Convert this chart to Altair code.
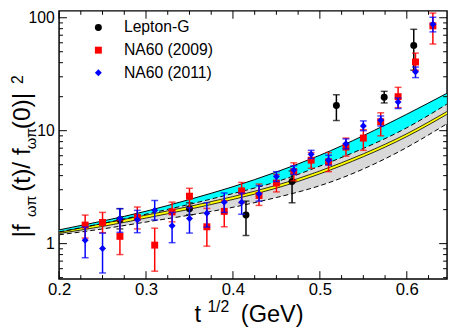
import altair as alt
import pandas as pd

# ---------------- data ----------------
lep_x  = [0.270, 0.350, 0.415, 0.468, 0.519, 0.574, 0.608]
lep_y  = [1.63, 2.04, 1.79, 3.55, 16.7, 19.8, 56.9]
lep_hi = [2.04, 2.30, 2.38, 4.40, 20.8, 22.3, 79.0]
lep_lo = [1.35, 1.80, 1.18, 2.30, 12.3, 17.6, 34.3]

na_x   = [0.23, 0.25, 0.27, 0.29, 0.31, 0.33, 0.35, 0.37, 0.39, 0.41, 0.43,
          0.45, 0.47, 0.49, 0.51, 0.53, 0.55, 0.57, 0.59, 0.61, 0.63]
n09_y  = [1.46, 1.54, 1.16, 1.71, 0.97, 1.91, 2.63, 1.41, 1.93, 2.93, 2.67,
          3.44, 4.34, 5.48, 5.30, 7.16, 8.60, 12.0, 20.0, 40.6, 84.8]
n09_hi = [1.79, 1.89, 1.60, 2.11, 1.37, 2.33, 3.09, 2.05, 2.40, 3.48, 3.37,
          4.10, 5.19, 6.40, 6.40, 8.60, 10.2, 14.4, 24.2, 48.6, 110.0]
n09_lo = [1.12, 1.25, 0.80, 1.35, 0.57, 1.56, 2.08, 0.95, 1.41, 2.30, 2.18,
          2.87, 3.60, 4.65, 4.34, 5.95, 6.70, 9.00, 16.0, 34.3, 58.5]
n11_y  = [1.07, 0.905, 1.67, 1.63, 1.97, 1.44, 1.67, 1.86, 2.33, 2.33, 2.76,
          3.92, 4.49, 6.19, 5.48, 7.65, 11.0, 12.4, 17.9, 33.2, 87.6]
n11_hi = [1.40, 1.24, 2.04, 1.97, 2.41, 1.89, 2.08, 2.30, 2.81, 2.80, 3.26,
          4.34, 4.90, 6.70, 6.06, 8.46, 12.2, 13.5, 19.5, 36.6, 101.0]
n11_lo = [0.75, 0.55, 1.26, 1.25, 1.62, 1.02, 1.24, 1.40, 1.89, 1.82, 2.38,
          3.55, 4.10, 5.67, 4.96, 6.90, 10.0, 11.0, 15.7, 29.5, 75.0]

curve_x  = [0.20, 0.25, 0.30, 0.35, 0.40, 0.45, 0.50, 0.55, 0.60, 0.646]
cyan_top = [1.323, 1.585, 1.936, 2.46, 3.19, 4.31, 6.06, 9.04, 14.0, 21.4]
cyan_bot = [1.272, 1.507, 1.823, 2.228, 2.776, 3.53, 4.86, 6.97, 10.62, 17.17]
gray_bot = [1.197, 1.350, 1.553, 1.787, 2.098, 2.56, 3.26, 4.58, 7.11, 11.5]
yel_hi   = [1.26, 1.507, 1.787, 2.137, 2.611, 3.286, 4.40, 6.24, 9.40, 14.77]
yel_lo   = [1.23, 1.420, 1.684, 2.015, 2.461, 3.097, 4.146, 5.88, 8.86, 13.92]

series_names = ["Lepton-G", "NA60 (2009)", "NA60 (2011)"]
series_colors = ["#000000", "#ff0000", "#0000ff"]
series_shapes = ["circle", "square", "diamond"]

x_major = [0.2, 0.3, 0.4, 0.5, 0.6]
x_minor = [0.225, 0.25, 0.275, 0.325, 0.35, 0.375, 0.425, 0.45, 0.475,
           0.525, 0.55, 0.575, 0.625]
y_major = [1, 10, 100]
y_minor = [0.5, 0.6, 0.7, 0.8, 0.9, 2, 3, 4, 5, 6, 7, 8, 9,
           20, 30, 40, 50, 60, 70, 80, 90]

# ---------------- chart ----------------
FONT = "Liberation Sans"
W, H = 395, 273
xs = alt.Scale(domain=[0.2, 0.6463], nice=False, zero=False)
ys = alt.Scale(type="log", domain=[0.486, 115], nice=False)
XAX = alt.Axis(values=x_major, format=".1f", ticks=False, domain=False, grid=False,
               labelFont=FONT, labelFontSize=17, labelColor="black",
               labelPadding=3, title=None, labelFlush=False)
YAX = alt.Axis(values=y_major, format="d", ticks=False, domain=False, grid=False,
               labelFont=FONT, labelFontSize=16, labelColor="black",
               labelPadding=5, title=None, labelFlush=False)


def X(f):
    return alt.X(f, type="quantitative", scale=xs, axis=XAX)


def Y(f):
    return alt.Y(f, type="quantitative", scale=ys, axis=YAX)


cdf = pd.DataFrame({"x": curve_x, "ct": cyan_top, "cb": cyan_bot,
                    "gb": gray_bot, "yh": yel_hi, "yl": yel_lo})
base_c = alt.Chart(cdf)
IP = "natural"
layers = [
    base_c.mark_area(color="#d9d9d9", interpolate=IP, clip=True)
    .encode(x=X("x"), y=Y("gb"), y2=alt.Y2("cb")),
    base_c.mark_area(color="#00ffff", interpolate=IP, clip=True)
    .encode(x=X("x"), y=Y("cb"), y2=alt.Y2("ct")),
    base_c.mark_area(color="#ffff00", interpolate=IP, clip=True)
    .encode(x=X("x"), y=Y("yl"), y2=alt.Y2("yh")),
    base_c.mark_line(color="black", strokeWidth=1, interpolate=IP, clip=True)
    .encode(x=X("x"), y=Y("ct")),
    base_c.mark_line(color="black", strokeWidth=1, strokeDash=[5, 3],
                     interpolate=IP, clip=True).encode(x=X("x"), y=Y("cb")),
    base_c.mark_line(color="black", strokeWidth=1, strokeDash=[5, 3],
                     interpolate=IP, clip=True).encode(x=X("x"), y=Y("gb")),
    base_c.mark_line(color="black", strokeWidth=0.8, interpolate=IP, clip=True)
    .encode(x=X("x"), y=Y("yh")),
    base_c.mark_line(color="black", strokeWidth=0.8, interpolate=IP, clip=True)
    .encode(x=X("x"), y=Y("yl")),
]

LEG = alt.Legend(title=None, orient="none", legendX=32, legendY=9, padding=0,
                 labelFont=FONT, labelFontSize=16, labelColor="black",
                 labelOffset=18, symbolSize=50, rowPadding=7)
col = alt.Color("s:N", scale=alt.Scale(domain=series_names, range=series_colors), legend=LEG)
shp = alt.Shape("s:N", scale=alt.Scale(domain=series_names, range=series_shapes), legend=LEG)

for name, xv, yv, hi, lo, c in [
        (series_names[0], lep_x, lep_y, lep_hi, lep_lo, series_colors[0]),
        (series_names[1], na_x, n09_y, n09_hi, n09_lo, series_colors[1]),
        (series_names[2], na_x, n11_y, n11_hi, n11_lo, series_colors[2])]:
    df = pd.DataFrame({"x": xv, "y": yv, "hi": hi, "lo": lo, "s": name})
    b = alt.Chart(df)
    layers += [
        b.mark_rule(color=c, strokeWidth=1.5).encode(x=X("x"), y=Y("lo"), y2=alt.Y2("hi")),
        b.mark_tick(color=c, orient="horizontal", size=7, thickness=1.5)
        .encode(x=X("x"), y=Y("hi")),
        b.mark_tick(color=c, orient="horizontal", size=7, thickness=1.5)
        .encode(x=X("x"), y=Y("lo")),
        b.mark_point(filled=True, size=50, opacity=1).encode(x=X("x"), y=Y("y"), color=col, shape=shp),
    ]

# inward ticks on all four sides
for vals, ln in [(x_major, 8), (x_minor, 4)]:
    t = alt.Chart(pd.DataFrame({"v": vals}))
    layers += [
        t.mark_rule(color="black", strokeWidth=1).encode(x=X("v"), y=alt.value(H), y2=alt.value(H - ln)),
        t.mark_rule(color="black", strokeWidth=1).encode(x=X("v"), y=alt.value(0), y2=alt.value(ln)),
    ]
for vals, ln in [(y_major, 8), (y_minor, 4)]:
    t = alt.Chart(pd.DataFrame({"v": vals}))
    layers += [
        t.mark_rule(color="black", strokeWidth=1).encode(y=Y("v"), x=alt.value(0), x2=alt.value(ln)),
        t.mark_rule(color="black", strokeWidth=1).encode(y=Y("v"), x=alt.value(W), x2=alt.value(W - ln)),
    ]


def txt(s, x, y, size, angle=0, align="left"):
    return alt.Chart(pd.DataFrame({"a": [0]})).mark_text(
        font=FONT, fontSize=size, align=align, baseline="alphabetic",
        angle=angle, color="black").encode(x=alt.value(x), y=alt.value(y), text=alt.value(s))


# x-axis title: t^{1/2} (GeV)
layers += [txt("t", 138, 317, 24), txt("1/2", 151, 307, 16), txt("(GeV)", 185, 317, 24)]
# y-axis title: |f_{ωπ}(t)/ f_{ωπ}(0)|^2  (rotated, each piece centred)
layers += [
    txt("|f", -30, 224, 25, 270, "center"),
    txt("ωπ", -24, 199, 15, 270, "center"),
    txt("(t)/ f", -30, 162, 25, 270, "center"),
    txt("ωπ", -24, 130, 15, 270, "center"),
    txt("(0)|", -30, 102, 25, 270, "center"),
    txt("2", -37, 70, 16, 270, "center"),
]

chart = (
    alt.layer(*layers)
    .properties(width=W, height=H,
                padding={"left": 52, "top": 0, "right": 3, "bottom": 51},
                autosize=alt.AutoSizeParams(type="none"))
    .configure(font=FONT)
    .configure_view(stroke="black", strokeWidth=1.5)
)

chart.save("out.html", embed_options={"renderer": "svg", "actions": False})
